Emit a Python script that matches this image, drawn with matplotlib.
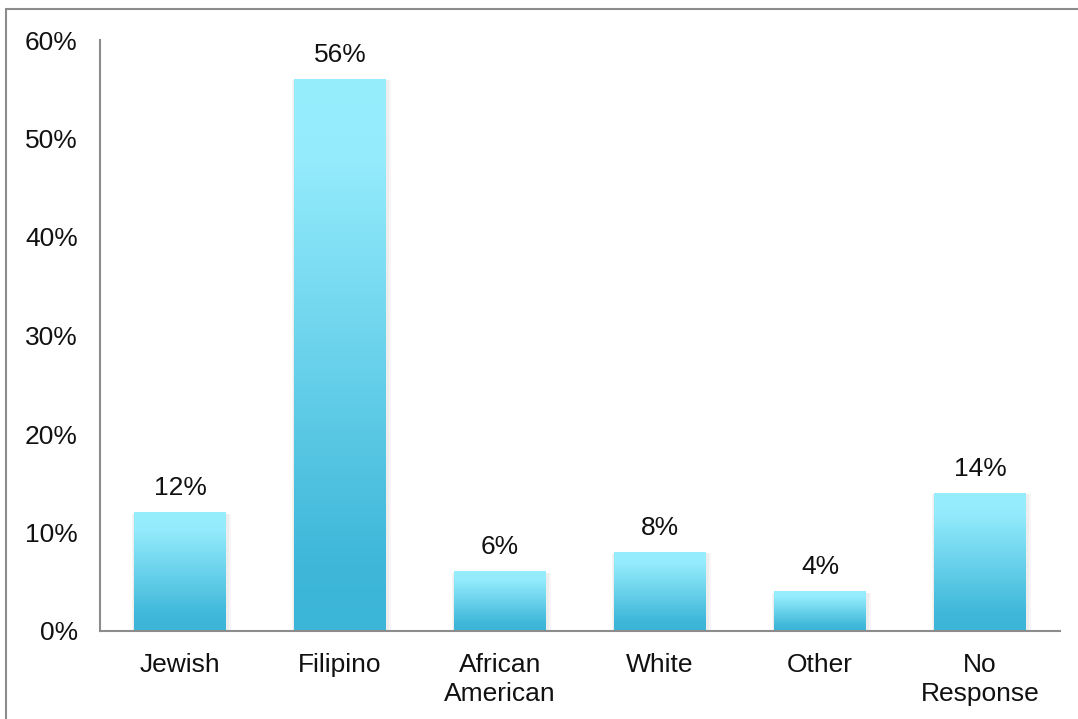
import numpy as np
import matplotlib.pyplot as plt
from matplotlib.colors import LinearSegmentedColormap
from matplotlib.patches import Rectangle

plt.rcParams['font.family'] = ['Liberation Sans', 'DejaVu Sans']

categories = ['Jewish', 'Filipino', 'African\nAmerican', 'White', 'Other', 'No\nResponse']
values = [12, 56, 6, 8, 4, 14]
value_labels = ['12%', '56%', '6%', '8%', '4%', '14%']
yticks = [0, 10, 20, 30, 40, 50, 60]

W, H = 1078, 719
fig = plt.figure(figsize=(W / 100, H / 100), dpi=100)
ax = fig.add_axes([100 / W, (H - 631) / H, 960 / W, 591 / H])

# outer frame like the office chart border
fig.patches.append(Rectangle((6 / W, -0.05), 1.2, (H - 9) / H + 0.05,
                             transform=fig.transFigure, fill=False,
                             edgecolor='#8c8c8c', linewidth=1.5))

cmap = LinearSegmentedColormap.from_list(
    'bar', [(0, '#3bb5d8'), (0.12, '#3eb7d9'), (0.85, '#93ebfc'), (1, '#96eefd')])
grad = np.linspace(0, 1, 256).reshape(-1, 1)
width = 0.575
x = np.arange(len(categories))

for xi, v, lab in zip(x, values, value_labels):
    # soft shadow
    for k in (0.012, 0.022):
        ax.add_patch(Rectangle((xi - width / 2 - k + 0.008, 0), width + 2 * k, v - 0.1,
                               facecolor='#000000', alpha=0.035, linewidth=0, zorder=1))
    ax.imshow(grad, cmap=cmap, origin='lower', aspect='auto',
              extent=(xi - width / 2, xi + width / 2, 0, v), zorder=2)
    ax.annotate(lab, (xi, v), xytext=(0, 9), textcoords='offset points',
                ha='center', va='bottom', fontsize=19, color='#111111')

ax.set_xlim(-0.5, len(categories) - 0.5)
ax.set_ylim(0, 60)
ax.set_yticks(yticks)
ax.set_yticklabels([f'{t}%' for t in yticks])
ax.set_xticks(x)
ax.set_xticklabels(categories, linespacing=1.25)
ax.tick_params(axis='both', length=0, labelsize=19, colors='#111111')
ax.tick_params(axis='x', pad=16)
ax.tick_params(axis='y', pad=16)

for s in ['top', 'right']:
    ax.spines[s].set_visible(False)
for s in ['left', 'bottom']:
    ax.spines[s].set_color('#8c8c8c')
    ax.spines[s].set_linewidth(1.5)
    ax.spines[s].set_zorder(3)

fig.savefig('out.png', dpi=100)
